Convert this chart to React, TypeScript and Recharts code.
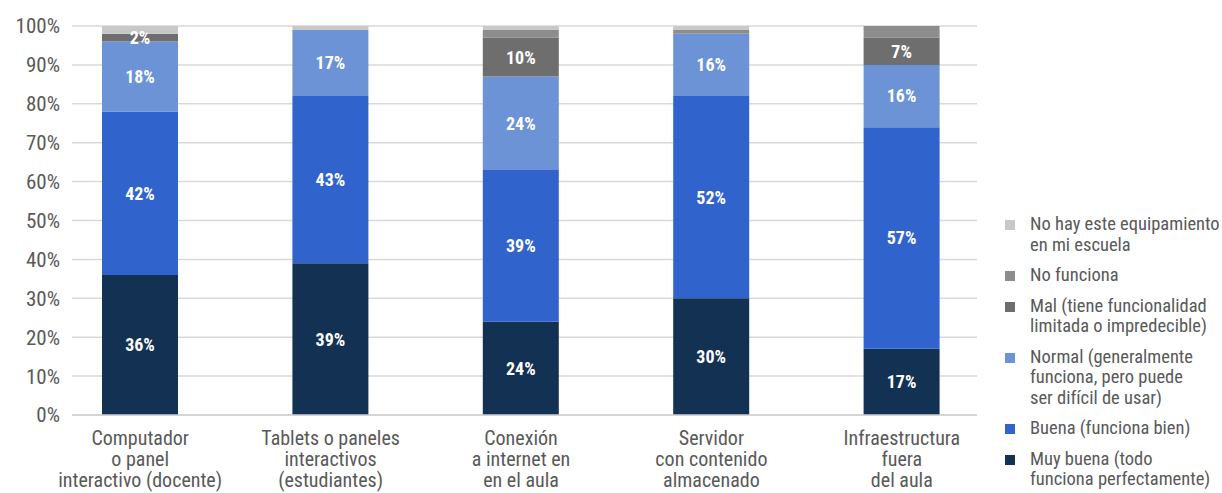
import { BarChart, Bar, XAxis, YAxis, CartesianGrid, LabelList } from 'recharts';

const categories = [
    'Computador\no panel\ninteractivo (docente)',
    'Tablets o paneles\ninteractivos\n(estudiantes)',
    'Conexión\na internet en\nen el aula',
    'Servidor\ncon contenido\nalmacenado',
    'Infraestructura\nfuera\ndel aula',
];

// stacked bottom -> top
const muyBuena = [36, 39, 24, 30, 17];
const buena = [42, 43, 39, 52, 57];
const normal = [18, 17, 24, 16, 16];
const mal = [2, 0, 10, 0, 7];
const noFunciona = [0, 0, 2, 1, 3];
const noHay = [2, 1, 1, 1, 0];

const yTicks = [0, 10, 20, 30, 40, 50, 60, 70, 80, 90, 100];

const series = [
    { key: 'muyBuena', values: muyBuena, color: '#133152', label: true, legend: ['Muy buena (todo', 'funciona perfectamente)'] },
    { key: 'buena', values: buena, color: '#3064cc', label: true, legend: ['Buena (funciona bien)'] },
    { key: 'normal', values: normal, color: '#6b93d6', label: true, legend: ['Normal (generalmente', 'funciona, pero puede', 'ser difícil de usar)'] },
    { key: 'mal', values: mal, color: '#6e6e6e', label: true, legend: ['Mal (tiene funcionalidad', 'limitada o impredecible)'] },
    { key: 'noFunciona', values: noFunciona, color: '#8d8d8d', label: false, legend: ['No funciona'] },
    { key: 'noHay', values: noHay, color: '#c8c8c8', label: false, legend: ['No hay este equipamiento', 'en mi escuela'] },
];

const data = categories.map((name, i) => {
    const row: Record<string, any> = { name };
    series.forEach((s) => { row[s.key] = s.values[i]; });
    return row;
});

const FONT = "'Roboto Condensed', 'DejaVu Sans Condensed', 'DejaVu Sans', sans-serif";
const TEXT = '#595959';

const XTick = ({ x, y, payload }: any) => {
    const lines = String(payload.value).split('\n');
    return (
        <g transform={`translate(${x},${y})`}>
            {lines.map((l, i) => (
                <text key={i} x={0} y={30 + i * 21} textAnchor="middle" fill={TEXT} fontSize={20} fontFamily={FONT} style={{ fontStretch: 'condensed' }}>{l}</text>
            ))}
        </g>
    );
};

const LegendBox = () => {
    // legend drawn top -> bottom, reverse of stacking
    const items = [...series].reverse();
    return (
        <div style={{ position: 'absolute', left: 995, top: 214, width: 227, fontFamily: FONT, fontStretch: 'condensed', fontSize: 18.5, color: TEXT, lineHeight: '20.5px' }}>
            {items.map((s) => (
                <div key={s.key} style={{ position: 'relative', paddingLeft: 35, marginBottom: 10, whiteSpace: 'nowrap' }}>
                    <span style={{ position: 'absolute', left: 10, top: 6, width: 10, height: 10, background: s.color }} />
                    {s.legend.map((t, i) => <div key={i}>{t}</div>)}
                </div>
            ))}
        </div>
    );
};

export default function App() {
    return (
        <div style={{ position: 'absolute', left: 0, top: 0, width: 1222, height: 493, background: '#fff', overflow: 'hidden', fontStretch: 'condensed' }}>
            <BarChart width={1222} height={493} data={data} margin={{ top: 26, right: 245, bottom: 0, left: 0 }} barSize={76}>
                <CartesianGrid vertical={false} stroke="#d9d9d9" strokeWidth={1.5} />
                <XAxis
                    dataKey="name"
                    tick={<XTick />}
                    tickLine={false}
                    axisLine={{ stroke: '#d0d0d0', strokeWidth: 1.5 }}
                    height={78}
                    tickSize={0}
                    tickMargin={0}
                    interval={0}
                    padding={{ left: -27, right: -20 }}
                />
                <YAxis
                    domain={[0, 100]}
                    ticks={yTicks}
                    width={72}
                    tickLine={false}
                    axisLine={false}
                    tickSize={0}
                    tickMargin={12}
                    tickFormatter={(v) => `${v}%`}
                    tick={{ fill: TEXT, fontSize: 21, fontFamily: FONT, style: { fontStretch: 'condensed' } }}
                />
                {series.map((s) => (
                    <Bar key={s.key} dataKey={s.key} stackId="a" fill={s.color} isAnimationActive={false}>
                        {s.label && (
                            <LabelList
                                dataKey={s.key}
                                position="center"
                                formatter={(v: any) => (v >= 2 ? `${v}%` : '')}
                                fill="#ffffff"
                                fontSize={18}
                                fontWeight="bold"
                                fontFamily={FONT}
                                style={{ fontStretch: 'condensed' }}
                            />
                        )}
                    </Bar>
                ))}
            </BarChart>
            <LegendBox />
        </div>
    );
}
